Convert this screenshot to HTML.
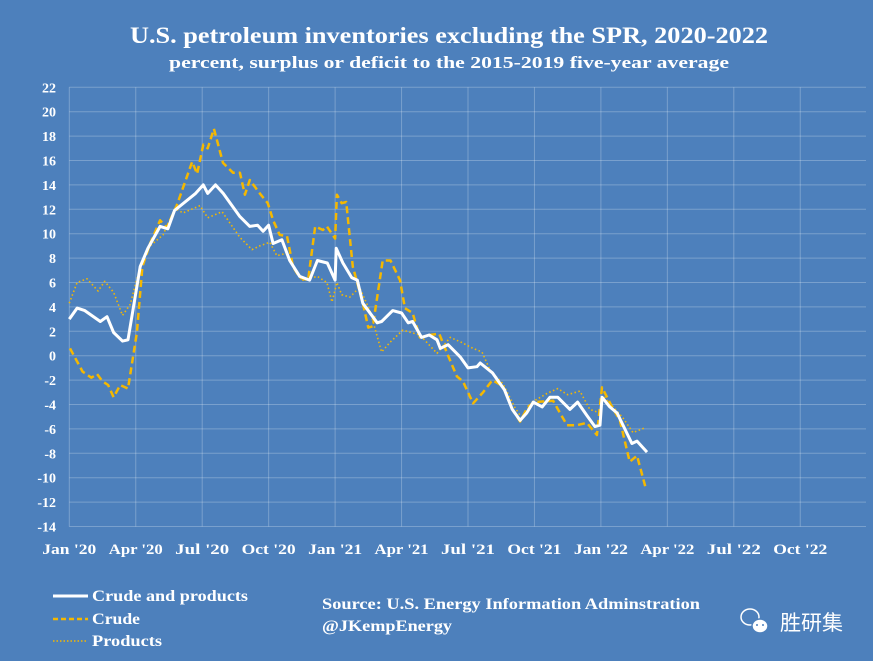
<!DOCTYPE html>
<html><head><meta charset="utf-8"><style>
html,body{margin:0;padding:0;background:#4d80bc;}
svg{display:block;}
text{font-family:"Liberation Serif",serif;font-weight:bold;fill:#fff;}
</style></head><body>
<svg id="chart" width="873" height="661" viewBox="0 0 873 661">
<rect x="0" y="0" width="873" height="661" fill="#4d80bc"/>
<text x="449" y="43" text-anchor="middle" font-size="23" textLength="638" lengthAdjust="spacingAndGlyphs">U.S. petroleum inventories excluding the SPR, 2020-2022</text>
<text x="449" y="68" text-anchor="middle" font-size="17" textLength="560" lengthAdjust="spacingAndGlyphs">percent, surplus or deficit to the 2015-2019 five-year average</text>
<g id="grid"></g>
<g id="axes"></g>
<g id="series"></g>
<g>
<g><line x1="53" y1="596" x2="88" y2="596" stroke="#fff" stroke-width="3"/><text x="92" y="601" font-size="16" textLength="156" lengthAdjust="spacingAndGlyphs">Crude and products</text></g>
<g><line x1="53" y1="619" x2="88" y2="619" stroke="#f5b800" stroke-width="2.5" stroke-dasharray="5,3"/><text x="92" y="624" font-size="16" textLength="48" lengthAdjust="spacingAndGlyphs">Crude</text></g>
<g><line x1="53" y1="641" x2="88" y2="641" stroke="#f5b800" stroke-width="1.5" stroke-dasharray="1.5,2"/><text x="92" y="646" font-size="16" textLength="70" lengthAdjust="spacingAndGlyphs">Products</text></g>
</g>
<text x="322" y="609" font-size="16" textLength="378" lengthAdjust="spacingAndGlyphs">Source: U.S. Energy Information Adminstration</text>
<text x="322" y="631" font-size="16" textLength="130" lengthAdjust="spacingAndGlyphs">@JKempEnergy</text>
<g>
<ellipse cx="750" cy="617" rx="9" ry="8" fill="none" stroke="#fff" stroke-width="1.5"/>
<ellipse cx="760" cy="626" rx="8" ry="7" fill="#fff" stroke="#4d80bc" stroke-width="1.5"/>
<circle cx="757" cy="625" r="1" fill="#4d80bc"/><circle cx="763" cy="625" r="1" fill="#4d80bc"/>
<text x="780" y="630" font-size="21" style="font-family:'Liberation Sans','Noto Sans CJK SC',sans-serif;font-weight:normal">胜研集</text>
</g>
</svg>
<script>
// months since Jan 2020 and values (percent)
const xTickLabels = ["Jan '20","Apr '20","Jul '20","Oct '20","Jan '21","Apr '21","Jul '21","Oct '21","Jan '22","Apr '22","Jul '22","Oct '22"];
const yTicks = [22,20,18,16,14,12,10,8,6,4,2,0,-2,-4,-6,-8,-10,-12,-14];
const totalMonths = [0,0.35,0.7,1.4,1.7,2.0,2.4,2.65,3.2,3.55,4.1,4.45,4.75,5.7,6.05,6.25,6.6,6.95,7.7,8.15,8.5,8.75,9.0,9.2,9.6,9.95,10.4,10.85,11.2,11.65,12.0,12.05,12.35,12.75,13.0,13.25,13.9,14.1,14.6,15.0,15.3,15.5,15.9,16.25,16.6,16.75,17.1,17.65,18.0,18.4,18.55,19.1,19.65,20.0,20.35,20.65,20.95,21.35,21.7,22.05,22.6,22.95,23.37,23.73,23.96,24.05,24.4,24.73,25.4,25.63,26.08];
const totalValues = [3.0,3.9,3.7,2.8,3.2,1.9,1.2,1.3,7.3,8.8,10.6,10.4,11.9,13.3,14.0,13.3,14.0,13.3,11.4,10.6,10.7,10.2,10.7,9.2,9.5,7.8,6.5,6.2,7.8,7.6,6.2,8.8,7.6,6.4,6.2,4.3,2.7,2.8,3.7,3.5,2.7,2.8,1.5,1.7,1.3,0.6,0.9,-0.1,-1.0,-0.9,-0.6,-1.4,-2.8,-4.4,-5.3,-4.7,-3.8,-4.2,-3.4,-3.4,-4.4,-3.8,-4.9,-5.8,-5.7,-3.4,-4.2,-4.7,-7.2,-7.0,-7.9];
const crudeMonths = [0.03,0.6,1.0,1.25,1.5,1.75,2.0,2.3,2.65,3.05,3.3,3.65,4.1,4.4,4.85,5.55,5.77,6.05,6.25,6.53,6.94,7.39,7.7,7.93,8.15,8.6,8.96,9.2,9.5,9.83,10.1,10.4,10.78,11.1,11.45,11.63,12.0,12.08,12.3,12.5,12.8,13.25,13.5,13.7,14.15,14.5,14.93,15.15,15.5,15.83,16.25,16.7,17.1,17.5,17.77,18.23,18.68,19.1,19.58,20.0,20.35,20.7,21.0,21.84,22.47,22.92,23.37,23.82,24.05,24.5,24.86,25.3,25.63,26.0];
const crudeValues = [0.6,-1.3,-1.8,-1.5,-2.1,-2.4,-3.4,-2.4,-2.7,1.9,7.3,9.2,11.1,10.5,12.3,15.9,14.9,17.3,17.0,18.6,15.8,15.0,15.0,13.2,14.4,13.3,12.5,11.1,9.9,9.8,7.3,6.4,6.2,10.6,10.3,10.6,9.6,13.2,12.5,12.6,7.3,4.3,2.3,2.4,7.8,7.8,6.2,3.9,3.5,1.5,1.7,1.8,0.0,-1.7,-2.1,-3.9,-3.0,-2.0,-2.5,-4.4,-5.4,-4.2,-3.8,-3.7,-5.7,-5.7,-5.5,-6.5,-2.6,-4.2,-5.3,-8.7,-8.2,-10.7];
const productsMonths = [0,0.35,0.8,1.3,1.6,2.0,2.4,2.75,3.2,3.65,4.23,4.77,5.13,5.9,6.25,6.9,7.7,8.25,8.6,9.05,9.37,9.83,10.1,10.55,11.2,11.63,11.86,12.08,12.3,12.67,13.1,13.57,14.1,14.48,15.06,15.83,16.6,17.2,17.7,18.23,18.63,19.0,19.58,20.1,20.43,20.9,21.56,22.05,22.5,23.05,23.5,23.96,24.1,24.55,25.0,25.45,26.0];
const productsValues = [4.3,6.0,6.3,5.3,6.1,5.2,3.3,4.2,7.3,9.0,9.9,12.1,11.7,12.3,11.3,11.8,9.7,8.7,9.0,9.3,8.2,8.4,7.3,6.2,6.5,6.0,4.4,6.0,5.0,4.8,5.6,3.7,0.3,1.1,2.1,1.7,0.2,1.5,1.1,0.6,0.3,-1.2,-2.3,-4.2,-5.1,-3.8,-3.1,-2.7,-3.2,-2.9,-4.4,-4.7,-3.3,-4.2,-5.1,-6.3,-5.9];

const NS="http://www.w3.org/2000/svg";
const X0=69.3, PXM=22.15, Y0=355.7, PXU=12.2;
function xs(m){return X0+m*PXM;}
function ys(v){return Y0-v*PXU;}
const grid=document.getElementById('grid'), axes=document.getElementById('axes'), series=document.getElementById('series');
yTicks.forEach(v=>{
  const l=document.createElementNS(NS,'line');
  l.setAttribute('x1',xs(0));l.setAttribute('x2',866);l.setAttribute('y1',ys(v));l.setAttribute('y2',ys(v));
  l.setAttribute('stroke','rgba(255,255,255,0.25)');l.setAttribute('stroke-width','1');
  
  
  grid.appendChild(l);
  const t=document.createElementNS(NS,'text');
  t.setAttribute('x',56);t.setAttribute('y',ys(v)+5);t.setAttribute('text-anchor','end');t.setAttribute('font-size','14');
  t.textContent=v;
  
  
  axes.appendChild(t);
});
xTickLabels.forEach((lab,i)=>{
  const m=i*3;
  const l=document.createElementNS(NS,'line');
  l.setAttribute('x1',xs(m));l.setAttribute('x2',xs(m));l.setAttribute('y1',ys(22));l.setAttribute('y2',ys(-14));
  l.setAttribute('stroke','rgba(255,255,255,0.25)');l.setAttribute('stroke-width','1');
  
  
  grid.appendChild(l);
  const t=document.createElementNS(NS,'text');
  t.setAttribute('x',xs(m));t.setAttribute('y',554);t.setAttribute('text-anchor','middle');t.setAttribute('font-size','15');
  t.setAttribute('textLength','54');t.setAttribute('lengthAdjust','spacingAndGlyphs');
  t.textContent=lab;
  
  
  axes.appendChild(t);
});
function draw(ms,vs,stroke,w,dash,name){
  const p=document.createElementNS(NS,'polyline');
  p.setAttribute('points',ms.map((m,i)=>xs(m).toFixed(1)+','+ys(vs[i]).toFixed(1)).join(' '));
  p.setAttribute('fill','none');p.setAttribute('stroke',stroke);p.setAttribute('stroke-width',w);
  p.setAttribute('stroke-linejoin','round');
  if(dash)p.setAttribute('stroke-dasharray',dash);
  
  
  series.appendChild(p);
}
draw(productsMonths,productsValues,'#f5b800',1.6,'1.5,2.5','products-line');
draw(crudeMonths,crudeValues,'#f5b800',2.5,'7,4','crude-line');
draw(totalMonths,totalValues,'#ffffff',3,null,'crude-and-products-line');
</script>
</body></html>
